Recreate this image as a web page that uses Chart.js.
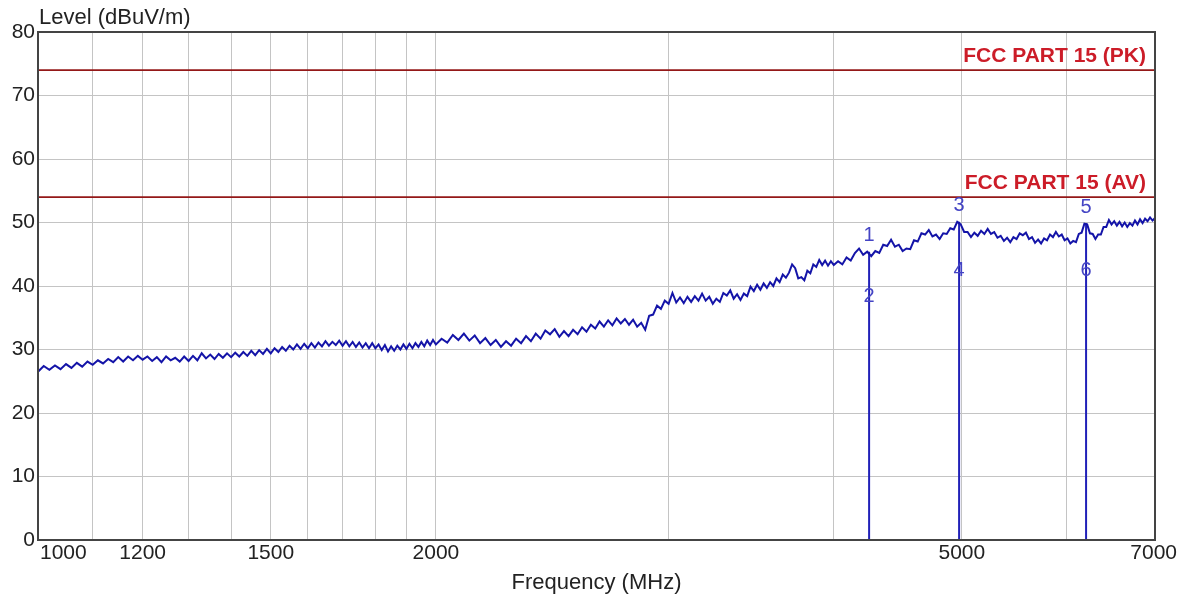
<!DOCTYPE html>
<html><head><meta charset="utf-8">
<script src="https://cdn.jsdelivr.net/npm/chart.js@4/dist/chart.umd.min.js"></script>
<style>html,body{margin:0;padding:0;background:#fff;}#wrap{width:1181px;height:601px;}</style>
</head><body><div id="wrap"><canvas id="c" width="1181" height="601"></canvas></div>
<script>
const freqs = [
1000,1010,1020,1030,1040,1050,1060,1070,1080,1090,
1100,1110,1120,1130,1140,1150,1160,1170,1180,1190,
1200,1210,1220,1230,1240,1250,1260,1270,1280,1290,
1300,1310,1320,1330,1340,1350,1360,1370,1380,1390,
1400,1410,1420,1430,1440,1450,1460,1470,1480,1490,
1500,1510,1520,1530,1540,1550,1560,1570,1580,1590,
1600,1610,1620,1630,1640,1650,1660,1670,1680,1690,
1700,1710,1720,1730,1740,1750,1760,1770,1780,1790,
1800,1810,1820,1830,1840,1850,1860,1870,1880,1890,
1900,1910,1920,1930,1940,1950,1960,1970,1980,1990,
2000,
2020,2040,2060,2080,2100,2120,2140,2160,2180,2200,
2220,2240,2260,2280,2300,2320,2340,2360,2380,2400,
2420,2440,2460,2480,2500,2520,2540,2560,2580,2600,
2620,2640,2660,2680,2700,2720,2740,2760,2780,2800,
2820,2840,2860,2880,2900,2920,2940,2960,2980,3000,
3020,3040,3060,3080,3100,3120,3140,3160,3180,3200,
3220,3240,3260,3280,3300,3320,3340,3360,3380,3400,
3420,3440,3460,3480,3500,3520,3540,3560,3580,3600,
3620,3640,3660,3680,3700,3720,3740,3760,3780,3800,
3820,3840,3860,3880,3900,3920,3940,3960,3980,4000,
4030,4060,4090,4120,4150,4180,4210,4240,4270,4300,
4330,4360,4390,4420,4450,4480,4510,4540,4570,4600,
4630,4660,4690,4720,4750,4780,4810,4840,4870,4900,
4930,4960,4990,5020,5050,5080,5110,5140,5170,5200,
5230,5260,5290,5320,5350,5380,5410,5440,5470,5500,
5530,5560,5590,5620,5650,5680,5710,5740,5770,5800,
5830,5860,5890,5920,5950,5980,6010,6040,6070,6100,
6130,6160,6190,6220,6250,6280,6310,6340,6370,6400,
6430,6460,6490,6520,6550,6580,6610,6640,6670,6700,
6730,6760,6790,6820,6850,6880,6910,6940,6970,7000];

const levels = [
26.5,27.4,26.8,27.5,26.9,27.7,27.1,27.9,27.3,28.1,
27.6,28.3,27.8,28.5,28.0,28.8,28.1,28.9,28.3,29.0,
28.4,28.9,28.2,28.8,28.0,28.9,28.3,28.7,28.1,28.9,
28.2,29.0,28.3,29.4,28.6,29.2,28.5,29.3,28.7,29.4,
28.8,29.5,28.9,29.6,29.0,29.8,29.1,29.9,29.3,30.1,
29.4,30.2,29.6,30.4,29.8,30.6,30.0,30.8,30.1,30.9,
30.2,31.0,30.3,31.1,30.5,31.3,30.6,31.2,30.7,31.4,
30.6,31.3,30.5,31.2,30.4,31.1,30.3,31.0,30.2,31.0,
30.2,30.8,29.9,30.7,29.7,30.5,29.8,30.6,30.0,30.8,
30.1,30.9,30.2,31.0,30.4,31.2,30.5,31.4,30.7,31.5,
30.8,
31.7,31.1,32.3,31.5,32.5,31.4,32.2,31.0,31.8,30.7,
31.5,30.4,31.3,30.6,31.7,31.0,32.1,31.3,32.5,31.7,
33.0,32.4,33.2,32.0,32.9,32.1,33.1,32.4,33.5,32.8,
33.9,33.3,34.4,33.6,34.6,33.8,34.9,34.1,34.8,33.9,
34.7,33.6,34.2,33.1,35.3,35.5,36.9,36.4,37.7,37.2,
38.9,37.4,38.2,37.3,38.3,37.5,38.4,37.7,38.8,37.7,
38.3,37.2,38.0,37.5,38.9,38.5,39.3,38.0,38.7,37.8,
38.8,38.4,39.9,39.2,40.2,39.4,40.4,39.7,40.6,40.0,
41.2,40.6,41.8,41.3,42.1,43.4,42.8,41.2,41.4,40.9,
42.4,42.0,43.4,43.0,44.1,43.3,44.0,43.2,43.9,43.3,
43.9,43.4,44.5,44.0,45.2,45.9,44.9,45.4,44.7,45.5,
45.2,46.5,46.3,47.3,46.2,46.5,45.5,45.9,45.8,47.2,
47.0,48.3,48.1,48.8,47.8,48.1,47.4,48.3,48.2,49.1,
48.9,50.1,49.7,48.5,48.5,47.7,48.4,47.9,48.7,48.2,
49.0,48.2,48.5,47.6,47.9,47.1,47.6,46.9,47.7,47.4,
48.3,48.0,48.4,47.4,47.7,46.8,47.3,46.7,47.5,47.2,
48.1,47.7,48.5,47.8,48.1,47.2,47.5,46.7,47.1,46.9,
48.2,48.4,49.8,49.7,48.3,48.2,47.4,48.1,48.1,49.3,
49.3,50.4,49.7,50.2,49.5,50.1,49.4,50.0,49.3,49.9,
49.5,50.3,49.7,50.5,49.9,50.6,50.2,50.8,50.3,50.7];

const limitPK = 74;
const limitAV = 54;
const limitLabels = ['FCC PART 15 (PK)', 'FCC PART 15 (AV)'];

const markerFreqs = [4254, 4976, 6208];
const peakLevels = [45.4, 50.1, 49.9];
const avgLevels = [38.4, 42.5, 42.5];
const peakNames = ['1', '3', '5'];
const avgNames = ['2', '4', '6'];

const gridFreqs = [1000,1100,1200,1300,1400,1500,1600,1700,1800,1900,2000,3000,4000,5000,6000,7000];
const xTickLabels = [1000, 1200, 1500, 2000, 5000, 7000];
const yTicks = [0,10,20,30,40,50,60,70,80];

const xTitle = 'Frequency (MHz)';
const yTitle = 'Level (dBuV/m)';

const FONT = '"Liberation Sans", Arial, sans-serif';
const TRACE = '#1414a8';
const LIMIT = '#941818';

const datasets = [];
datasets.push({data: freqs.map((f,i)=>({x:f, y:levels[i]})), borderColor: TRACE, borderWidth: 2, pointRadius: 0, tension: 0});
[limitPK, limitAV].forEach(v => datasets.push({data:[{x:1000,y:v},{x:7000,y:v}], borderColor: LIMIT, borderWidth: 1.6, pointRadius: 0}));
markerFreqs.forEach((f,i) => datasets.push({data:[{x:f,y:0},{x:f,y:peakLevels[i]}], borderColor: '#2020b8', borderWidth: 2, pointRadius: 0}));

const textPlugin = {
  id: 'texts',
  afterDatasetsDraw(chart) {
    const ctx = chart.ctx, a = chart.chartArea, xs = chart.scales.x, ys = chart.scales.y;
    ctx.save();
    ctx.strokeStyle = '#444'; ctx.lineWidth = 2;
    ctx.strokeRect(a.left, a.top, a.right - a.left, a.bottom - a.top);
    ctx.font = 'bold 21px ' + FONT; ctx.fillStyle = '#cc1c28';
    ctx.textAlign = 'right'; ctx.textBaseline = 'bottom';
    [limitPK, limitAV].forEach((v,i) => ctx.fillText(limitLabels[i], a.right - 9, ys.getPixelForValue(v) - 3));
    ctx.font = '20px ' + FONT; ctx.fillStyle = '#4444c4'; ctx.textAlign = 'center'; ctx.textBaseline = 'middle';
    markerFreqs.forEach((f,i) => {
      const x = xs.getPixelForValue(f);
      ctx.fillText(peakNames[i], x, ys.getPixelForValue(peakLevels[i]) - 16);
      ctx.fillText(avgNames[i], x, ys.getPixelForValue(avgLevels[i]));
    });
    ctx.font = '21px ' + FONT; ctx.fillStyle = '#222'; ctx.textBaseline = 'middle';
    xTickLabels.forEach(v => {
      const t = String(v); const w = ctx.measureText(t).width;
      let x = xs.getPixelForValue(v);
      x = Math.max(x, a.left + 2 + w/2);
      x = Math.min(x, chart.width - 4 - w/2);
      ctx.textAlign = 'center';
      ctx.fillText(t, x, a.bottom + 13);
    });
    ctx.font = '22px ' + FONT;
    ctx.textAlign = 'center'; ctx.fillText(xTitle, (a.left + a.right)/2, a.bottom + 43);
    ctx.textAlign = 'left'; ctx.fillText(yTitle, a.left + 1, a.top - 14);
    ctx.restore();
  }
};
const bgPlugin = {id:'bg', beforeDraw(c){const g=c.ctx; g.save(); g.fillStyle='#fff'; g.fillRect(0,0,c.width,c.height); g.restore();}};

new Chart(document.getElementById('c'), {
  type: 'line',
  data: { datasets },
  options: {
    responsive: false, animation: false, parsing: true,
    layout: { padding: { top: 32, right: 26, left: 0, bottom: 0 } },
    plugins: { legend: { display: false }, tooltip: { enabled: false } },
    scales: {
      x: {
        type: 'logarithmic', min: 1000, max: 7000,
        afterBuildTicks: s => { s.ticks = gridFreqs.map(v => ({value: v})); },
        afterFit: s => { s.height = 61; },
        ticks: { display: false },
        grid: { color: '#c4c4c4', lineWidth: 1, drawTicks: false },
        border: { color: '#222', width: 2 }
      },
      y: {
        min: 0, max: 80,
        afterBuildTicks: s => { s.ticks = yTicks.map(v => ({value: v})); },
        afterFit: s => { s.width = 38; },
        ticks: { font: { family: FONT, size: 21 }, color: '#222', padding: 3 },
        grid: { color: '#c4c4c4', lineWidth: 1, drawTicks: false },
        border: { color: '#222', width: 2 }
      }
    }
  },
  plugins: [bgPlugin, textPlugin]
});
</script>
</body></html>
